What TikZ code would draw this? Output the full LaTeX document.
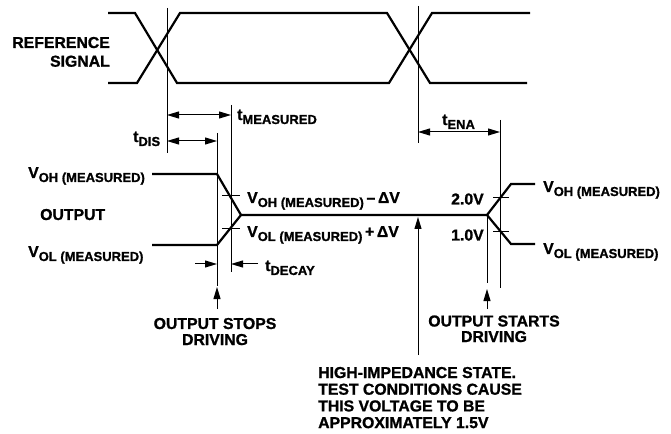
\documentclass[tikz,border=0pt]{standalone}
\usepackage{fontspec}
\setmainfont{Liberation Sans Bold}[FakeBold=1.2]
\usetikzlibrary{arrows.meta}
\newcommand{\lsub}[1]{\raisebox{-4bp}{\fontsize{13bp}{13bp}\selectfont #1}}
\begin{document}
\begin{tikzpicture}[x=1bp,y=-1bp,
  sig/.style={line width=2.2bp, line join=miter},
  thin/.style={line width=1bp},
  tip/.tip={Triangle[length=12bp,width=7bp]},
  dim/.style={thin, tip-tip},
  ptr/.style={thin, -tip},
  lbl/.style={inner sep=0pt, font=\fontsize{15.8bp}{16.7bp}\selectfont}]
\useasboundingbox (0,0) rectangle (671,434);
% reference signal
\draw[sig] (108,13) -- (135,13) -- (177,83) -- (389,83) -- (432,13) -- (530,13);
\draw[sig] (108,83) -- (137,83) -- (180,13) -- (387,13) -- (430,83) -- (527,83);
% coordinates
\coordinate (r1t) at (167,8);   \coordinate (r1b) at (167,153);
\coordinate (r2t) at (418,6);   \coordinate (r2b) at (418,143);
\coordinate (dst) at (217,133); \coordinate (dsb) at (217,286);
\coordinate (mst) at (231,105); \coordinate (msb) at (231,272);
\coordinate (j2)  at (487,215); \coordinate (j2b) at (487,283);
\coordinate (ent) at (500,120); \coordinate (enb) at (500,288);
\draw[thin] (r1t) -- (r1b);
\draw[thin] (r2t) -- (r2b);
\draw[thin] (dst) -- (dsb);
\draw[thin] (mst) -- (msb);
\draw[thin] (j2) -- (j2b);
\draw[thin] (ent) -- (enb);
% output
\draw[sig] (152,174) -- (217,174) -- (241,215) -- (j2);
\draw[sig] (152,245) -- (217,245) -- (241,215);
\draw[sig] (535,184) -- (511,184) -- (j2) -- (511,244) -- (535,244);
% ticks
\draw[thin] (222,196) -- (240,196);
\draw[thin] (222,229) -- (240,229);
\draw[thin] (493,198) -- (509,198);
\draw[thin] (493,232) -- (509,232);
% dimension arrows
\draw[dim] (167,115) -- (231,115);
\draw[dim] (167,141) -- (217,141);
\draw[dim] (418,132) -- (500,132);
\draw[ptr] (195,264) -- (217,264);
\draw[ptr] (258,264) -- (231,264);
% labels
\node[lbl, anchor=base east] (ref1) at (110,48) {REFERENCE};
\node[lbl, anchor=base east] (ref2) at (110,66.7) {SIGNAL};
\node[lbl, anchor=base west] (tmeas) at (237,120) {t\lsub{MEASURED}};
\node[lbl, anchor=base west] (tdis) at (133,142) {t\lsub{DIS}};
\node[lbl, anchor=base west] (tena) at (442,125) {t\lsub{ENA}};
\node[lbl, anchor=base west] (tdecay) at (265,271) {t\lsub{DECAY}};
\node[lbl, anchor=base west] (vohl) at (28,178) {V\lsub{OH (MEASURED)}};
\node[lbl, anchor=base west] (outl) at (40,220) {OUTPUT};
\node[lbl, anchor=base west] (voll) at (28,257) {V\lsub{OL (MEASURED)}};
\node[lbl, anchor=base west] (vohm) at (247,203) {V\lsub{OH (MEASURED)}\,–\,ΔV};
\node[lbl, anchor=base west] (volm) at (247,237) {V\lsub{OL (MEASURED)}\,+\,ΔV};
\node[lbl, anchor=base west] (v20) at (451,204.5) {2.0V};
\node[lbl, anchor=base west] (v10) at (451,240.5) {1.0V};
\node[lbl, anchor=base west] (vohr) at (543,192) {V\lsub{OH (MEASURED)}};
\node[lbl, anchor=base west] (volr) at (543,254) {V\lsub{OL (MEASURED)}};
\node[lbl, anchor=base] (stop1) at (215,329) {OUTPUT STOPS};
\node[lbl, anchor=base] (stop2) at (215,345) {DRIVING};
\node[lbl, anchor=base] (start1) at (494,326.5) {OUTPUT STARTS};
\node[lbl, anchor=base] (start2) at (494,342) {DRIVING};
\node[lbl, anchor=base west] (hi1) at (318,378) {HIGH-IMPEDANCE STATE.};
\node[lbl, anchor=base west] (hi2) at (318,394.7) {TEST CONDITIONS CAUSE};
\node[lbl, anchor=base west] (hi3) at (318,411.4) {THIS VOLTAGE TO BE};
\node[lbl, anchor=base west] (hi4) at (318,428.1) {APPROXIMATELY 1.5V};
% pointer arrows
\coordinate (pstop) at (217,309);
\coordinate (pstart) at (487,309);
\coordinate (phi) at (418,355);
\draw[ptr] (pstop) -- (217,287);
\draw[ptr] (pstart) -- (487,289);
\draw[ptr] (phi) -- (418,217);
\end{tikzpicture}
\end{document}
